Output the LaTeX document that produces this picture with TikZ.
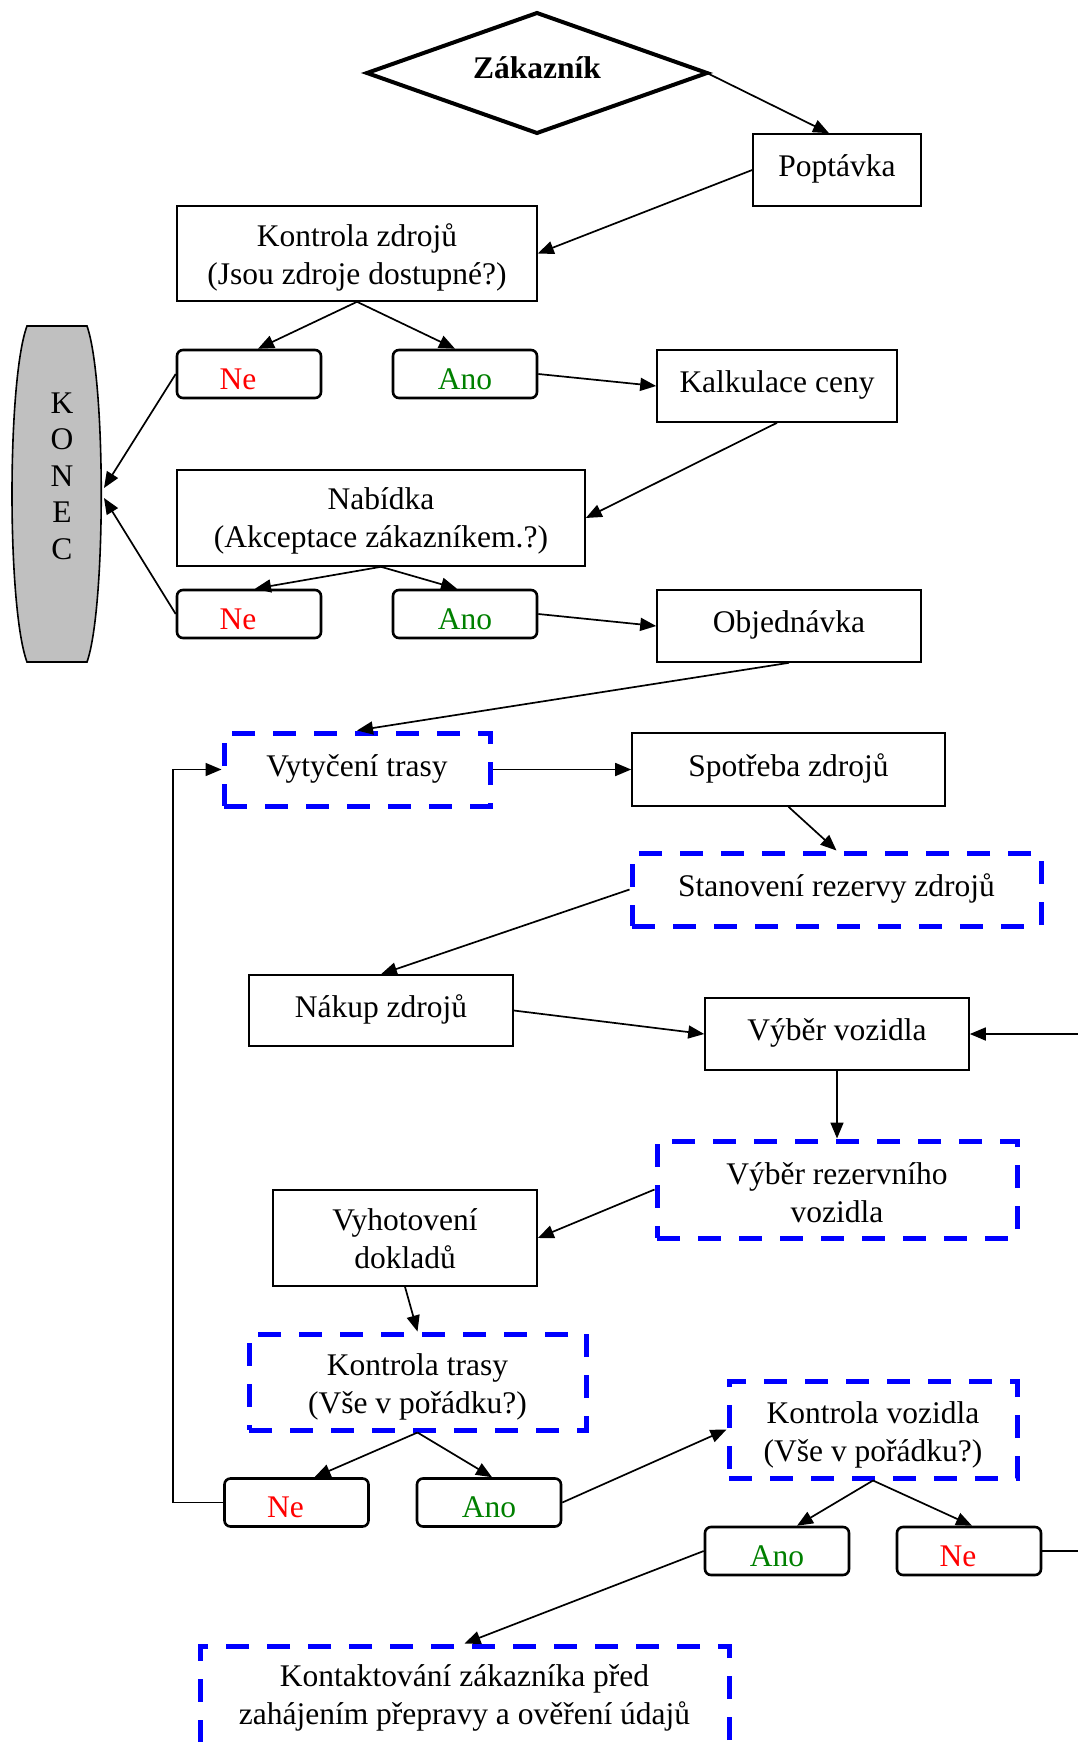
\documentclass[tikz,border=0pt]{standalone}
\usepackage{fontspec}
\setmainfont{Liberation Serif}
\usetikzlibrary{arrows.meta,calc}
\definecolor{konecgray}{RGB}{192,192,192}
\definecolor{anogreen}{RGB}{0,128,0}
\begin{document}
\begin{tikzpicture}[x=1pt,y=-1pt,
  every node/.style={font=\fontsize{31.5}{38}\selectfont, align=center, inner sep=0pt},
  box/.style={draw, line width=1.6pt, rectangle},
  one/.style={text height=22pt, text depth=9pt},
  dbox/.style={draw=blue, line width=5pt, dash pattern=on 23pt off 18pt},
  ynbox/.style={draw, line width=2.6pt, rounded corners=6pt, minimum width=144pt, minimum height=48pt, text height=30pt, text depth=0pt},
  ne/.style={ynbox, text=red},
  ano/.style={ynbox, text=anogreen},
  arr/.style={line width=1.7pt, -{Triangle[length=16pt,width=13pt]}}]
\useasboundingbox (0,0) rectangle (1078,1742);

% KONEC shape
\draw[fill=konecgray, line width=1.6pt] (27,326) -- (87,326) .. controls (106,380) and (106,608) .. (87,662) -- (27,662) .. controls (7,608) and (7,380) .. (27,326) -- cycle;
\node (konec) at (62,476) [font=\fontsize{31.5}{36.5}\selectfont] {K\\O\\N\\E\\C};
\coordinate (konA) at (104,488);
\coordinate (konB) at (104,498);

% Zakaznik diamond
\draw[line width=4pt, line join=miter] (367,73) -- (537,13) -- (707,73) -- (537,133) -- cycle;
\node[font=\fontsize{31.5}{38}\selectfont\bfseries] (zak) at (537,68) {Zákazník};
\coordinate (zakR) at (707,73);

% boxes
\node[box, one, minimum width=168pt, minimum height=72pt] (popt) at (837,170) {Poptávka};
\node[box, minimum width=360pt, minimum height=95pt] (kz) at (357,253.5) {};
\node (kzt) at (357,257.5) {Kontrola zdrojů\\(Jsou zdroje dostupné?)};
\node[ne] (ne1) at (249,374) {Ne\kern22pt};
\node[ano] (ano1) at (465,374) {Ano};
\node[box, one, minimum width=240pt, minimum height=72pt] (kalk) at (777,386) {Kalkulace ceny};
\node[box, minimum width=408pt, minimum height=96pt] (nab) at (381,518) {};
\node (nabt) at (381,521) {Nabídka\\(Akceptace zákazníkem.?)};
\node[ne] (ne2) at (249,614) {Ne\kern22pt};
\node[ano] (ano2) at (465,614) {Ano};
\node[box, one, minimum width=264pt, minimum height=72pt] (obj) at (789,626) {Objednávka};
\node[dbox, one, minimum width=266pt, minimum height=73pt] (vyt) at (357,769.5) {Vytyčení trasy};
\node[box, one, minimum width=313pt, minimum height=73pt] (spot) at (788.5,769.5) {Spotřeba zdrojů};
\node[dbox, one, minimum width=409pt, minimum height=73pt] (stan) at (836.5,889.5) {Stanovení rezervy zdrojů};
\node[box, one, minimum width=264pt, minimum height=71pt] (nakup) at (381,1010.5) {Nákup zdrojů};
\node[box, one, minimum width=264pt, minimum height=72pt] (vyber) at (837,1034) {Výběr vozidla};
\node[dbox, minimum width=360pt, minimum height=97pt] (vrez) at (837,1189.5) {};
\node (vrezt) at (837,1192.5) {Výběr rezervního\\vozidla};
\node[box, minimum width=264pt, minimum height=96pt] (vyh) at (405,1238) {};
\node (vyht) at (405,1238.5) {Vyhotovení\\dokladů};
\node[dbox, minimum width=337pt, minimum height=96pt] (kt) at (417.5,1382) {};
\node (ktt) at (417.5,1386.5) {Kontrola trasy\\(Vše v pořádku?)};
\node[ne] (ne3) at (296.5,1502.5) {Ne\kern22pt};
\node[ano] (ano3) at (489,1502.5) {Ano};
\node[dbox, minimum width=288pt, minimum height=97pt] (kv) at (873,1429.5) {};
\node (kvt) at (873,1434.5) {Kontrola vozidla\\(Vše v pořádku?)};
\node[ano] (ano4) at (777,1551) {Ano};
\node[ne] (ne4) at (969,1551) {Ne\kern22pt};
\node[dbox, minimum width=529pt, minimum height=98pt] (kont) at (464.5,1695) {};
\node (kontt) at (464.5,1698) {Kontaktování zákazníka před\\zahájením přepravy a ověření údajů};
\coordinate (loopR) at (1110,1551);

% connectors
\draw[arr] (zakR) -- ($(popt.north)+(-8,0)$);
\draw[arr] (popt.west) -- (kz.east);
\draw[arr] (kz.south) -- ($(ne1.north)+(9,0)$);
\draw[arr] (kz.south) -- ($(ano1.north)+(-10,0)$);
\draw[arr] (ne1.west) -- (konA);
\draw[arr] (ano1.east) -- (kalk.west);
\draw[arr] (kalk.south) -- (nab.east);
\draw[arr] (nab.south) -- ($(ne2.north)+(6,0)$);
\draw[arr] (nab.south) -- ($(ano2.north)+(-8,0)$);
\draw[arr] (ne2.west) -- (konB);
\draw[arr] (ano2.east) -- (obj.west);
\draw[arr] (obj.south) -- (vyt.north);
\draw[arr] (vyt.east) -- (spot.west);
\draw[arr] (spot.south) -- (stan.north);
\draw[arr] (stan.west) -- (nakup.north);
\draw[arr] (nakup.east) -- (vyber.west);
\draw[arr] (ne4.east) -- (loopR) |- (vyber.east);
\draw[arr] (vyber.south) -- (vrez.north);
\draw[arr] (vrez.west) -- (vyh.east);
\draw[arr] (vyh.south) -- (kt.north);
\draw[arr] (kt.south) -- ($(ne3.north)+(18,0)$);
\draw[arr] (kt.south) -- ($(ano3.north)+(3,0)$);
\draw[arr] (ne3.west) -- ++(-50,0) |- (vyt.west);
\draw[arr] (ano3.east) -- (kv.west);
\draw[arr] (kv.south) -- ($(ano4.north)+(20,0)$);
\draw[arr] (kv.south) -- ($(ne4.north)+(3,0)$);
\draw[arr] (ano4.west) -- (kont.north);
\end{tikzpicture}
\end{document}
